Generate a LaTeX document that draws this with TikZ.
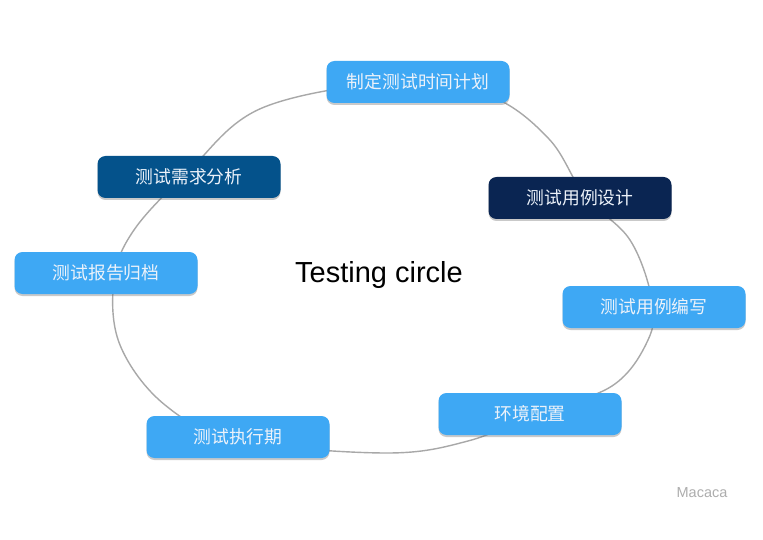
\documentclass[tikz,border=0pt]{standalone}
\usepackage{fontspec}
\setmainfont{Liberation Sans}
\newfontfamily\cjk{Noto Sans CJK SC}
\usetikzlibrary{shadows}
\definecolor{lightblue}{RGB}{62,168,244}
\definecolor{navy}{RGB}{10,37,82}
\definecolor{deepblue}{RGB}{4,82,139}
\definecolor{ringgray}{RGB}{168,168,168}
\definecolor{boxtext}{RGB}{236,242,250}
\tikzset{
  stagebox/.style={rounded corners=8pt, minimum width=183pt, minimum height=42pt,
    text=boxtext, font=\cjk\fontsize{17.8}{19}\selectfont, inner sep=0pt,
    drop shadow={shadow xshift=0pt, shadow yshift=-2pt, opacity=0.35, fill=black!60}},
  lightstage/.style={stagebox, fill=lightblue},
  ring/.style={draw=ringgray, line width=1.4pt}
}
\begin{document}
\begin{tikzpicture}[x=1pt,y=-1pt]
\useasboundingbox (0,0) rectangle (763,540);
\fill[white] (0,0) rectangle (763,540);
\coordinate (p1) at (400,82);
\coordinate (p2) at (262,108);
\coordinate (p3) at (188,172);
\coordinate (p4) at (134,230);
\coordinate (p5) at (114,280);
\coordinate (p6) at (120,345);
\coordinate (p7) at (165,405);
\coordinate (p8) at (238,440);
\coordinate (p9) at (385,453);
\coordinate (p10) at (468,441);
\coordinate (p11) at (535,414);
\coordinate (p12) at (612,386);
\coordinate (p13) at (648,340);
\coordinate (p14) at (652,300);
\coordinate (p15) at (630,240);
\coordinate (p16) at (585,196);
\coordinate (p17) at (549,139);
\coordinate (p18) at (490,96);
\draw[ring] plot[smooth cycle, tension=0.6] coordinates {(p1) (p2) (p3) (p4) (p5) (p6) (p7) (p8) (p9) (p10) (p11) (p12) (p13) (p14) (p15) (p16) (p17) (p18)};
\node[lightstage] (plan) at (418,82) {制定测试时间计划};
\node[stagebox, fill=navy] (design) at (580,198) {测试用例设计};
\node[lightstage] (write) at (654,307) {测试用例编写};
\node[lightstage] (env) at (530,414) {环境配置};
\node[lightstage] (exec) at (238,437) {测试执行期};
\node[lightstage] (report) at (106,273) {测试报告归档};
\node[stagebox, fill=deepblue] (req) at (189,177) {测试需求分析};
\node[font=\fontsize{29}{33}\selectfont] (title) at (379,275) {Testing circle};
\node[font=\fontsize{14.5}{16}\selectfont, text=black!32] (brand) at (702,493) {Macaca};
\end{tikzpicture}
\end{document}
